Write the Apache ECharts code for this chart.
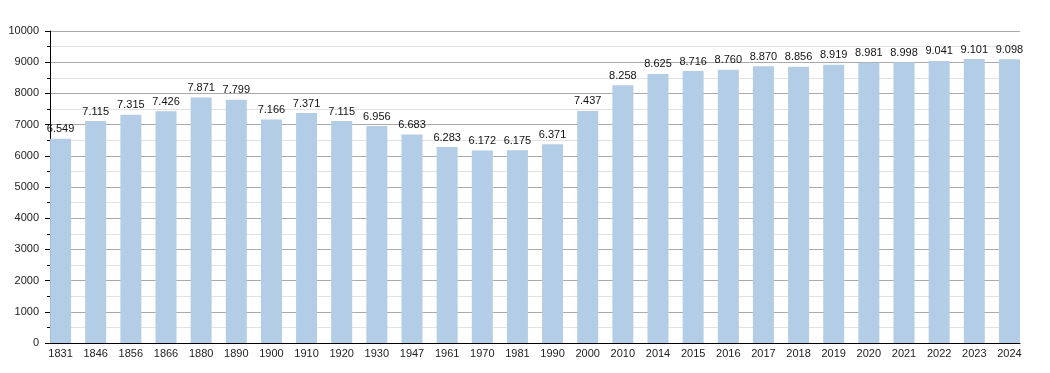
<!DOCTYPE html>
<html><head><meta charset="utf-8">
<script src="https://cdn.jsdelivr.net/npm/echarts@6/dist/echarts.min.js"></script>
<style>html,body{margin:0;padding:0;background:#fff}#c{width:1050px;height:373px}</style>
</head><body><div id="c"></div>
<script>
const years = ['1831','1846','1856','1866','1880','1890','1900','1910','1920','1930','1947','1961','1970','1981','1990','2000','2010','2014','2015','2016','2017','2018','2019','2020','2021','2022','2023','2024'];
const population = [6549,7115,7315,7426,7871,7799,7166,7371,7115,6956,6683,6283,6172,6175,6371,7437,8258,8625,8716,8760,8870,8856,8919,8981,8998,9041,9101,9098];
const yTicks = [0,1000,2000,3000,4000,5000,6000,7000,8000,9000,10000];

const fmt = v => { const s = String(v); return s.length > 3 ? s.slice(0, s.length-3) + '.' + s.slice(-3) : s; };
const font = 'Liberation Sans, Arial, sans-serif';
const chart = echarts.init(document.getElementById('c'), null, {renderer:'canvas'});
chart.setOption({
  animation:false,
  grid:[
    {left:50, right:30, top:31, bottom:30},
    {left:43, right:23, top:31, bottom:30}
  ],
  xAxis:[
    {gridIndex:0, type:'value', min:0, max:1, axisLine:{show:true, lineStyle:{color:'#000', width:1}}, axisTick:{show:false}, axisLabel:{show:false}, splitLine:{show:false}},
    {gridIndex:1, type:'category', data:years, axisLine:{show:false}, axisTick:{show:false},
     axisLabel:{color:'#222', fontSize:11, fontFamily:font, margin:5, interval:0}}
  ],
  yAxis:[
    {gridIndex:0, type:'value', min:yTicks[0], max:yTicks[yTicks.length-1], interval:1000,
     axisLine:{show:true, lineStyle:{color:'#000'}},
     axisTick:{show:true, length:5, lineStyle:{color:'#000'}},
     minorTick:{show:true, splitNumber:2, length:3, lineStyle:{color:'#000'}},
     axisLabel:{color:'#222', fontSize:11, fontFamily:font, margin:11, formatter:v=>String(v)},
     splitLine:{show:true, lineStyle:{color:'#aaaaaa', width:1}},
     minorSplitLine:{show:true, lineStyle:{color:'#e2e2e2', width:1}}},
    {gridIndex:1, type:'value', min:yTicks[0], max:yTicks[yTicks.length-1], show:false, splitLine:{show:false}}
  ],
  series:[{
    type:'bar', xAxisIndex:1, yAxisIndex:1, data:population, barWidth:21, z:1,
    itemStyle:{color:'#b3cde6'},
    label:{show:true, position:'top', distance:4, color:'#111', fontSize:11, fontFamily:font, formatter:p=>fmt(p.value)}
  }]
});
</script></body></html>
